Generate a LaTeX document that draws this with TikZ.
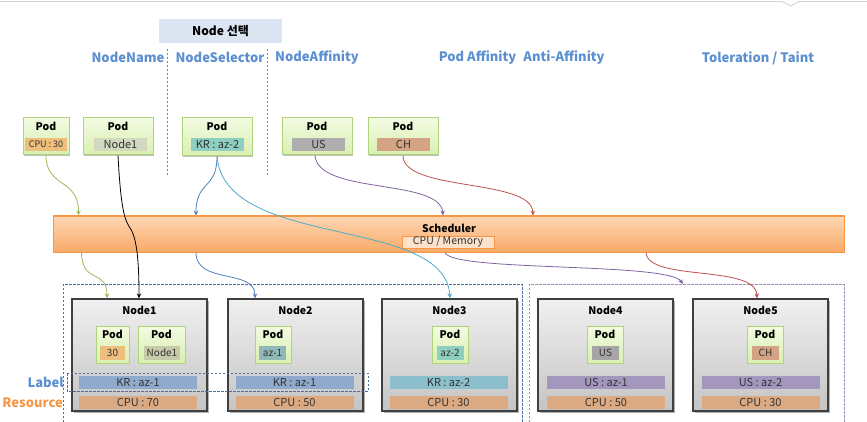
\documentclass[tikz,border=0pt]{standalone}
\usepackage{fontspec}
\setmainfont{Noto Sans CJK KR}
\usetikzlibrary{arrows.meta,shadows,calc}
\definecolor{hblue}{HTML}{5B8FD0}
\definecolor{selbox}{HTML}{DCE6F2}
\definecolor{podtop}{HTML}{F3FBE2}
\definecolor{podbot}{HTML}{D9EFB0}
\definecolor{podline}{HTML}{B0D47A}
\definecolor{ndtop}{HTML}{F0F0F0}
\definecolor{ndbot}{HTML}{C4C4C4}
\definecolor{ndline}{HTML}{3F3F3F}
\definecolor{schtop}{HTML}{FDD6B4}
\definecolor{schbot}{HTML}{F9AA68}
\definecolor{schline}{HTML}{F79646}
\definecolor{cpubox}{HTML}{FCE2CA}
\definecolor{cgreen}{HTML}{9BBB59}
\definecolor{cblue}{HTML}{4F81BD}
\definecolor{ccyan}{HTML}{4BACC6}
\definecolor{cpurple}{HTML}{8064A2}
\definecolor{cred}{HTML}{C0504D}
\definecolor{krone}{HTML}{8FAACC}
\definecolor{krtwo}{HTML}{8BBFCB}
\definecolor{usbar}{HTML}{A497BD}
\definecolor{cpubar}{HTML}{DCAA82}
\definecolor{tagcpu}{HTML}{EDBE7C}
\definecolor{tagnode}{HTML}{D3D9BE}
\definecolor{tagkr}{HTML}{8ECFC0}
\definecolor{tagus}{HTML}{B0ADAE}
\definecolor{tagch}{HTML}{D4A384}
\definecolor{itnode}{HTML}{C8CBAA}
\definecolor{itazone}{HTML}{8FB9B8}
\definecolor{grpblue}{HTML}{4F6F9F}
\definecolor{grppurple}{HTML}{9C8AB8}
\definecolor{txtgray}{HTML}{333333}
\definecolor{resorange}{HTML}{F79646}
\newcommand\myfs[1]{\fontsize{#1}{#1}\selectfont}
\begin{document}
\begin{tikzpicture}[x=1pt,y=-1pt,
  hdr/.style={font=\myfs{13}\bfseries, text=hblue, inner sep=0},
  podbox/.style={draw=podline, line width=1pt, top color=podtop, bottom color=podbot, inner sep=0,
     drop shadow={shadow xshift=1.2pt,shadow yshift=-1.2pt,fill=black,opacity=0.25}},
  podtitle/.style={font=\myfs{10.5}\bfseries, inner sep=0},
  tag/.style={inner sep=0, minimum height=13pt, text=txtgray, font=\myfs{11}},
  knode/.style={draw=ndline, line width=1.3pt, top color=ndtop, bottom color=ndbot, inner sep=0,
     minimum width=135pt, minimum height=112pt,
     drop shadow={shadow xshift=1.5pt,shadow yshift=-1.5pt,fill=black,opacity=0.3}},
  ktitle/.style={font=\myfs{10.5}\bfseries, inner sep=0},
  bar/.style={inner sep=0, minimum width=118pt, minimum height=13pt, text=txtgray, font=\myfs{11}},
  conn/.style={line width=0.8pt, -{Stealth[length=5pt,width=4.5pt]}},
  grp/.style={dash pattern=on 2.5pt off 1.5pt, line width=0.8pt}
]
\useasboundingbox (0,0) rectangle (867,422);
% top frame line and pointer
\draw[gray!35, line width=0.8pt] (0,1) -- (781,1);
\draw[gray!35, line width=0.8pt] (800,1) -- (867,1);
\draw[gray!45, line width=0.6pt, fill=white] (781,1) -- (790.5,6) -- (800,1);

% section header
\node[fill=selbox, minimum width=123pt, minimum height=24pt, inner sep=0, font=\myfs{12}\bfseries] (sel) at (220.5,31) {Node 선택};
\node[hdr] (hname) at (128,57.5) {NodeName};
\node[hdr] (hsel) at (220,57.5) {NodeSelector};
\node[hdr] (haff) at (317,57.5) {NodeAffinity};
\node[hdr] (hpod) at (477.5,57.5) {Pod Affinity};
\node[hdr] (hanti) at (564,57.5) {Anti-Affinity};
\node[hdr] (htol) at (758,58) {Toleration / Taint};
\draw[hblue, line width=0.8pt, dash pattern=on 2pt off 2pt] (167,49) -- (167,175);
\draw[hblue, line width=0.8pt, dash pattern=on 2pt off 2pt] (267,49) -- (267,175);

% top pods
\node[podbox, minimum width=46pt, minimum height=37pt] (P1) at (46,136.5) {};
\node[podbox, minimum width=70pt, minimum height=37pt] (P2) at (118,136.5) {};
\node[podbox, minimum width=70pt, minimum height=38pt] (P3) at (217,137) {};
\node[podbox, minimum width=70pt, minimum height=37pt] (P4) at (317,136.5) {};
\node[podbox, minimum width=70pt, minimum height=37pt] (P5) at (403,136.5) {};
\foreach \n/\x in {P1/46,P2/118,P3/217,P4/317,P5/403}
  \node[podtitle] (\n t) at (\x,126) {Pod};
\node[tag, fill=tagcpu, minimum width=42pt, font=\myfs{9}] (P1g) at (46,144.5) {CPU : 30};
\node[tag, fill=tagnode, minimum width=53pt] (P2g) at (120.5,144.5) {Node1};
\node[tag, fill=tagkr, minimum width=53pt] (P3g) at (217.5,144.5) {KR : az-2};
\node[tag, fill=tagus, minimum width=53pt] (P4g) at (318.5,144.5) {US};
\node[tag, fill=tagch, minimum width=53pt] (P5g) at (403.5,144.5) {CH};

% scheduler
\node[draw=schline, line width=1pt, top color=schtop, bottom color=schbot, minimum width=791pt, minimum height=36pt, inner sep=0,
  drop shadow={shadow xshift=1.2pt,shadow yshift=-1.2pt,fill=black,opacity=0.2}] (sched) at (448.5,234) {};
\node[font=\myfs{10.5}\bfseries, inner sep=0] (scht) at (449,228) {Scheduler};
\node[draw=schline, line width=0.8pt, fill=cpubox, minimum width=92pt, minimum height=12pt, inner sep=0, text=txtgray, font=\myfs{10.5}] (schm) at (448,242) {CPU / Memory};

% groups
\draw[grp, grpblue] (63,422) -- (63,284) -- (522,284) -- (522,422);
\draw[grp, grppurple] (529,422) -- (529,284) -- (844,284) -- (844,422);
\coordinate (g2top) at (683,284);

% worker nodes
\foreach \n/\x/\t in {N1/139.5/Node1,N2/295.5/Node2,N3/449.5/Node3,N4/605.5/Node4,N5/760.5/Node5}{
  \node[knode] (\n) at (\x,355) {};
  \node[ktitle] (\n t) at (\x,310) {\t};
}
% label bars
\node[bar, fill=krone] (N1l) at (138,382.5) {KR : az-1};
\node[bar, fill=krone] (N2l) at (294.5,382.5) {KR : az-1};
\node[bar, fill=krtwo] (N3l) at (448.5,382.5) {KR : az-2};
\node[bar, fill=usbar] (N4l) at (606,382.5) {US : az-1};
\node[bar, fill=usbar] (N5l) at (760.5,382.5) {US : az-2};
% resource bars
\node[bar, fill=cpubar] (N1r) at (138,402.5) {CPU : 70};
\node[bar, fill=cpubar] (N2r) at (294.5,402.5) {CPU : 50};
\node[bar, fill=cpubar] (N3r) at (448.5,402.5) {CPU : 30};
\node[bar, fill=cpubar] (N4r) at (606,402.5) {CPU : 50};
\node[bar, fill=cpubar] (N5r) at (760.5,402.5) {CPU : 30};
\draw[grp, grpblue] (67,373) rectangle (368,391);

% pods inside nodes
\node[podbox, minimum width=33pt, minimum height=37pt] (Q1) at (112.5,344.5) {};
\node[podbox, minimum width=47pt, minimum height=37pt] (Q2) at (161.5,344.5) {};
\node[podbox, minimum width=36pt, minimum height=37pt] (Q3) at (273,344.5) {};
\node[podbox, minimum width=36pt, minimum height=37pt] (Q4) at (450,344.5) {};
\node[podbox, minimum width=36pt, minimum height=37pt] (Q5) at (605,344.5) {};
\node[podbox, minimum width=36pt, minimum height=37pt] (Q6) at (765,344.5) {};
\foreach \n/\x in {Q1/112.5,Q2/161.5,Q3/273,Q4/450,Q5/605,Q6/765}
  \node[podtitle] (\n t) at (\x,334) {Pod};
\node[tag, fill=tagcpu, minimum width=25pt, minimum height=14pt, font=\myfs{10}] (Q1g) at (112.5,353) {30};
\node[tag, fill=itnode, minimum width=36pt, minimum height=14pt, font=\myfs{10}] (Q2g) at (162,353) {Node1};
\node[tag, fill=itazone, minimum width=27pt, minimum height=14pt, font=\myfs{10}] (Q3g) at (272.5,353) {az-1};
\node[tag, fill=tagkr, minimum width=27pt, minimum height=14pt, font=\myfs{10}] (Q4g) at (450,353) {az-2};
\node[tag, fill=tagus!95!black, minimum width=27pt, minimum height=14pt, font=\myfs{10}] (Q5g) at (605.5,353) {US};
\node[tag, fill=tagch, minimum width=27pt, minimum height=14pt, font=\myfs{10}] (Q6g) at (765.5,353) {CH};

% side labels
\node[font=\myfs{13}\bfseries, text=hblue, anchor=east, inner sep=0] (lbl) at (64,382) {Label};
\node[font=\myfs{13}\bfseries, text=resorange, anchor=east, inner sep=0] (res) at (63,403) {Resource};

% connectors
\draw[conn, cgreen] (P1.south) .. controls (46,188) and (79,178) .. ([xshift=26pt]sched.north west);
\draw[conn, cgreen] ([xshift=29pt]sched.south west) .. controls (82,285) and (107,268) .. ([xshift=-32.5pt]N1.north);
\draw[conn, black] ([xshift=0pt]P2.south) .. controls (121,212) and (125,220) .. (130,228) .. controls (137,238) and (139,262) .. ([xshift=-0.5pt]N1.north);
\draw[conn, cblue] (P3.south) .. controls (217,190) and (196,180) .. ([xshift=-252.5pt]sched.north);
\draw[conn, cblue] ([xshift=-252.5pt]sched.south) .. controls (196,285) and (255,268) .. ([xshift=-40.5pt]N2.north);
\draw[conn, ccyan] (P3.south) .. controls (225,250) and (445,215) .. ([xshift=0.5pt]N3.north);
\draw[conn, cpurple] ([xshift=-2pt]P4.south) .. controls (318,195) and (440,178) .. ([xshift=-5.5pt]sched.north);
\draw[conn, cpurple] ([xshift=-3.5pt]sched.south) .. controls (452,272) and (668,262) .. (g2top);
\draw[conn, cred] (P5.south) .. controls (403,192) and (532,178) .. ([xshift=84.5pt]sched.north);
\draw[conn, cred] ([xshift=197.5pt]sched.south) .. controls (648,282) and (756,264) .. ([xshift=-3.5pt]N5.north);
\end{tikzpicture}
\end{document}
